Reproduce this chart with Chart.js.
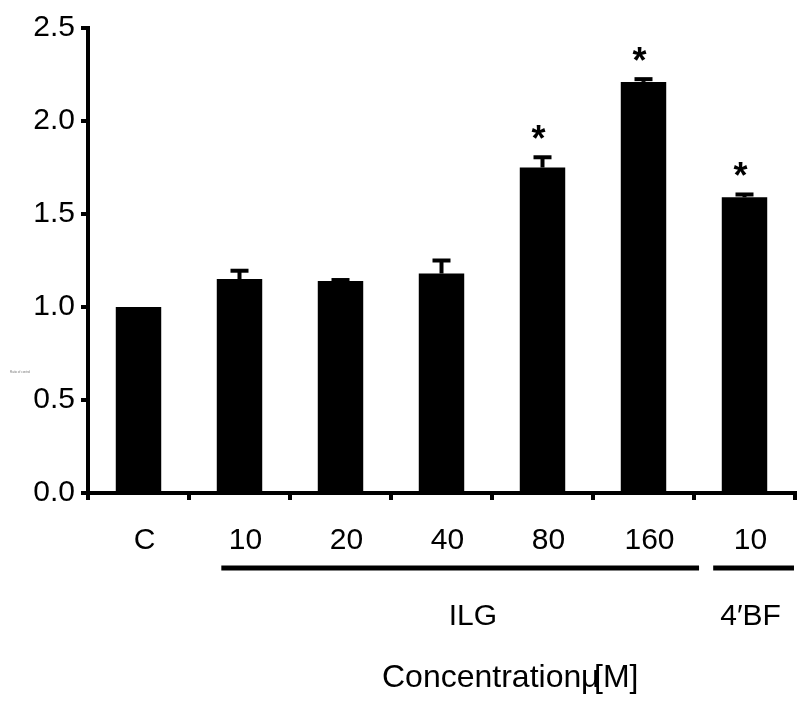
<!DOCTYPE html>
<html>
<head>
<meta charset="utf-8">
<script src="https://cdn.jsdelivr.net/npm/chart.js@4/dist/chart.umd.min.js"></script>
<style>
html,body{margin:0;padding:0;background:#fff;}
#wrap{width:808px;height:704px;}
</style>
</head>
<body>
<div id="wrap"><canvas id="c" width="808" height="704"></canvas></div>
<script>
// ---- data ----
const categories = ['C', '10', '20', '40', '80', '160', '10'];
const means = [1.00, 1.15, 1.14, 1.18, 1.75, 2.21, 1.59];
const errorsUp = [0, 0.045, 0.005, 0.07, 0.055, 0.015, 0.015];
const significant = [false, false, false, false, true, true, true];
const yTickValues = [0.0, 0.5, 1.0, 1.5, 2.0, 2.5];
const groupLabels = ['ILG', '4\u2032BF'];
const groupStart = [0.82, 5.69];
const groupEnd = [5.55, 6.49];
const groupCenter = [3.31, 6.06];
const xTitleParts = ['Concentration', '\u03bc', '[M]'];
const yTitle = 'Ratio of control';

const FONT = '"Liberation Sans", Arial, Helvetica, sans-serif';

const extrasPlugin = {
  id: 'extras',
  afterDatasetsDraw(chart) {
    const ctx = chart.ctx;
    const xs = chart.scales.x, ys = chart.scales.y;
    ctx.save();
    ctx.strokeStyle = '#000';
    ctx.fillStyle = '#000';
    // error bars (upper only) with caps
    means.forEach((m, i) => {
      const e = errorsUp[i];
      if (!e) return;
      const x = xs.getPixelForValue(i);
      const yTop = ys.getPixelForValue(m);
      const yCap = ys.getPixelForValue(m + e);
      ctx.lineWidth = 4;
      ctx.beginPath();
      ctx.moveTo(x, yTop);
      ctx.lineTo(x, yCap);
      ctx.stroke();
      ctx.beginPath();
      ctx.moveTo(x - 9, yCap);
      ctx.lineTo(x + 9, yCap);
      ctx.stroke();
    });
    // significance asterisks
    ctx.font = 'bold 36px ' + FONT;
    ctx.textAlign = 'center';
    ctx.textBaseline = 'alphabetic';
    means.forEach((m, i) => {
      if (!significant[i]) return;
      const x = xs.getPixelForValue(i) - 4;
      const yCap = ys.getPixelForValue(m + errorsUp[i]);
      ctx.fillText('*', x, yCap - 6);
    });
    ctx.restore();
  },
  afterDraw(chart) {
    const ctx = chart.ctx;
    const xs = chart.scales.x;
    ctx.save();
    ctx.fillStyle = '#000';
    ctx.strokeStyle = '#000';
    // group underlines
    ctx.lineWidth = 5;
    groupLabels.forEach((g, i) => {
      ctx.beginPath();
      ctx.moveTo(xs.getPixelForValue(groupStart[i]), 568);
      ctx.lineTo(xs.getPixelForValue(groupEnd[i]), 568);
      ctx.stroke();
    });
    // group labels
    ctx.font = '30px ' + FONT;
    ctx.textAlign = 'center';
    ctx.textBaseline = 'middle';
    groupLabels.forEach((g, i) => {
      ctx.fillText(g, xs.getPixelForValue(groupCenter[i]), 617);
    });
    // x title (overlapping glyphs as in the original)
    ctx.font = '32px ' + FONT;
    ctx.textAlign = 'left';
    ctx.textBaseline = 'alphabetic';
    ctx.fillText(xTitleParts[0], 382, 687);
    ctx.fillText(xTitleParts[1], 581, 687);
    ctx.fillText(xTitleParts[2], 594, 687);
    // tiny y title
    ctx.font = '3px ' + FONT;
    ctx.fillStyle = '#777';
    ctx.fillText(yTitle, 10, 373);
    ctx.restore();
  }
};

new Chart(document.getElementById('c'), {
  type: 'bar',
  data: {
    labels: categories,
    datasets: [{
      data: means,
      backgroundColor: '#000',
      borderWidth: 0,
      barPercentage: 0.45,
      categoryPercentage: 1.0
    }]
  },
  options: {
    responsive: false,
    animation: false,
    devicePixelRatio: 1,
    layout: { padding: { top: 28, right: 13, bottom: 0, left: 0 } },
    plugins: { legend: { display: false }, tooltip: { enabled: false } },
    scales: {
      x: {
        type: 'category',
        offset: true,
        afterFit(scale) { scale.height = 211; },
        border: { display: true, color: '#000', width: 4 },
        grid: {
          offset: true,
          drawOnChartArea: false,
          drawTicks: true,
          tickLength: 7,
          color: '#000',
          lineWidth: 4
        },
        ticks: {
          color: '#000',
          padding: 23,
          labelOffset: 6,
          maxRotation: 0,
          autoSkip: false,
          font: { family: FONT, size: 30 }
        }
      },
      y: {
        min: 0,
        max: 2.5,
        afterFit(scale) { scale.width = 88; },
        afterBuildTicks(scale) { scale.ticks = yTickValues.map(v => ({ value: v })); },
        border: { display: true, color: '#000', width: 4 },
        grid: {
          drawOnChartArea: false,
          drawTicks: true,
          tickLength: 7,
          color: '#000',
          lineWidth: 4
        },
        ticks: {
          color: '#000',
          padding: 6,
          font: { family: FONT, size: 30 },
          callback: (v) => Number(v).toFixed(1)
        }
      }
    }
  },
  plugins: [extrasPlugin]
});
</script>
</body>
</html>
